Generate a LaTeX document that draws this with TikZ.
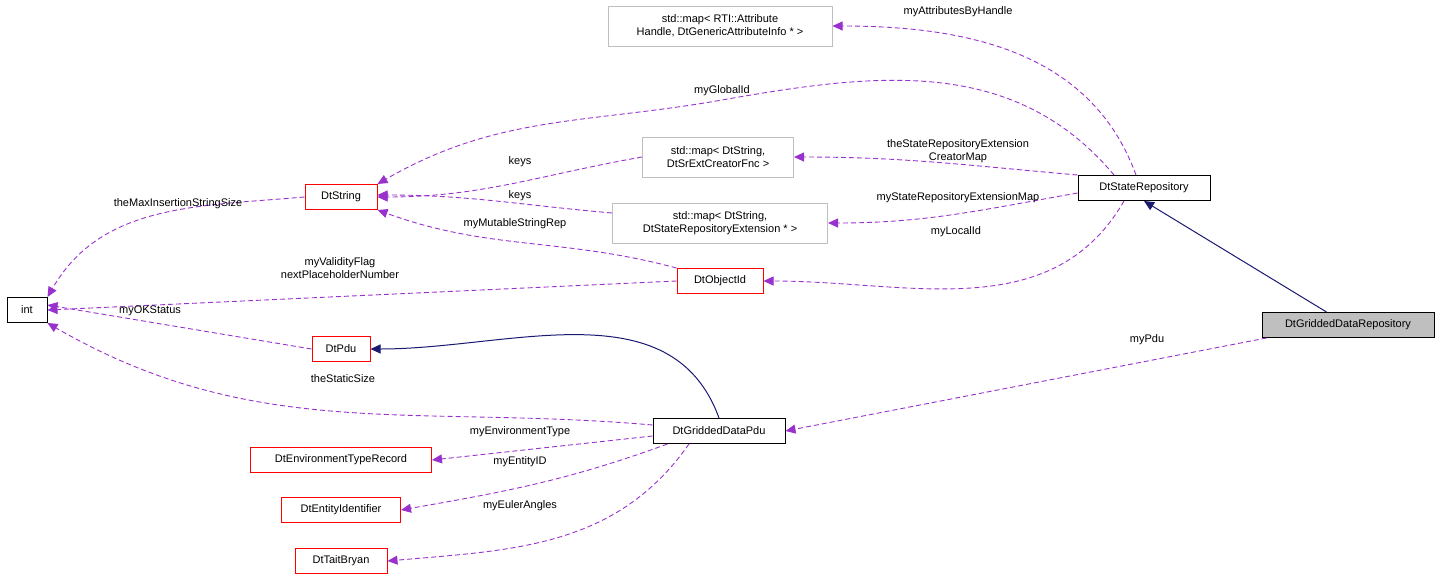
\documentclass[tikz,border=0pt]{standalone}
\usepackage{fontspec}
\setmainfont{Liberation Sans}
\usepackage{tikz}
\usetikzlibrary{arrows.meta}
\definecolor{EdgePurple}{RGB}{153,50,204}
\definecolor{EdgeNavy}{RGB}{25,25,112}
\definecolor{BoxGray}{RGB}{191,191,191}

\tikzset{
  cls/.style={draw=black,fill=white,rectangle,inner sep=0pt,line width=1pt,minimum height=25pt,font=\fontsize{11}{13}\selectfont,align=center},
  redcls/.style={cls,draw=red},
  graycls/.style={cls,draw=BoxGray,minimum height=40pt},
  usage/.style={draw=EdgePurple,line width=0.9pt,dash pattern=on 5pt off 3pt,-{Triangle[length=10pt,width=9pt]}},
  inherit/.style={draw=EdgeNavy,line width=1pt,-{Triangle[length=10pt,width=9pt]}},
  lbl/.style={font=\fontsize{11}{13}\selectfont,align=center,inner sep=0pt}
}

\begin{document}
\begin{tikzpicture}[x=1pt,y=-1pt]
\useasboundingbox (0,0) rectangle (1440,581);
% classes
\node[cls,minimum width=40pt] (int) at (27,310) {int};
\node[redcls,minimum width=72pt] (str) at (341,197) {DtString};
\node[graycls,minimum width=224pt] (mapRti) at (720,26) {std::map\textless{} RTI::Attribute\\Handle, DtGenericAttributeInfo * \textgreater};
\node[graycls,minimum width=151pt] (mapFnc) at (718,157) {std::map\textless{} DtString,\\DtSrExtCreatorFnc \textgreater};
\node[graycls,minimum width=215pt] (mapExt) at (720,223) {std::map\textless{} DtString,\\DtStateRepositoryExtension * \textgreater};
\node[cls,minimum width=132pt] (repo) at (1144,188) {DtStateRepository};
\node[redcls,minimum width=86pt] (oid) at (720,281) {DtObjectId};
\node[redcls,minimum width=58pt] (pdu) at (341,349) {DtPdu};
\node[cls,fill=BoxGray,minimum width=172pt] (gRepo) at (1348,325) {DtGriddedDataRepository};
\node[cls,minimum width=132pt] (gPdu) at (719,431) {DtGriddedDataPdu};
\node[redcls,minimum width=181pt] (envRec) at (341,460) {DtEnvironmentTypeRecord};
\node[redcls,minimum width=119pt] (entId) at (341,510) {DtEntityIdentifier};
\node[redcls,minimum width=92pt] (tait) at (341,561) {DtTaitBryan};

% inheritance
\draw[inherit] (gRepo.north west) ++(65,0) coordinate (gr1) (gr1) -- (repo.south);
\draw[inherit] (gPdu.north) to[out=110,in=0] (pdu.east);

% usage
\draw[usage] (repo.north) ++(-8,0) coordinate (r1) (r1) to[out=110,in=0] (mapRti.east);
\draw[usage] (repo.north) ++(-30,0) coordinate (r2) (r2) to[out=130,in=10] (722,100) to[out=190,in=30] (str.north east);
\draw[usage] (repo.north west) to[out=175,in=0] (mapFnc.east);
\draw[usage] (repo.south west) ++(0,-8) coordinate (r3) (r3) to[out=190,in=0] (mapExt.east);
\draw[usage] (repo.south) ++(-20,0) coordinate (r4) (r4) to[out=240,in=0] (oid.east);
\draw[usage] (mapFnc.west) to[out=190,in=0] (str.east);
\draw[usage] (mapExt.west) ++(0,-10) coordinate (m1) (m1) to[out=175,in=0] ([yshift=2pt]str.east);
\draw[usage] (oid.north west) to[out=165,in=-20] (str.south east);
\draw[usage] (str.west) to[out=185,in=60] (int.north east);
\draw[usage] (oid.west) -- (int.east);
\draw[usage] (pdu.west) -- ([yshift=5pt]int.east);
\draw[usage] (gPdu.west) ++(0,-6) coordinate (p1) (p1) to[out=175,in=-30] (int.south east);
\draw[usage] (gRepo.south west) ++(5,0) coordinate (g1) (g1) -- (gPdu.east);
\draw[usage] ([yshift=-5pt]gPdu.west) -- (envRec.east);
\draw[usage] (gPdu.south west) ++(15,0) coordinate (p2) (p2) to[out=200,in=10] (entId.east);
\draw[usage] (gPdu.south) ++(-30,0) coordinate (p3) (p3) to[out=235,in=5] (tait.east);

% labels
\node[lbl] (lAttr) at (958,12) {myAttributesByHandle};
\node[lbl] (lGlob) at (722,91) {myGlobalId};
\node[lbl] (lCre) at (958,151) {theStateRepositoryExtension\\CreatorMap};
\node[lbl] (lExtMap) at (958,198) {myStateRepositoryExtensionMap};
\node[lbl] (lLoc) at (956,232) {myLocalId};
\node[lbl] (lKeys1) at (520,162) {keys};
\node[lbl] (lKeys2) at (520,196) {keys};
\node[lbl] (lMut) at (515,224) {myMutableStringRep};
\node[lbl] (lMax) at (178,204) {theMaxInsertionStringSize};
\node[lbl] (lVal) at (340,268) {myValidityFlag\\nextPlaceholderNumber};
\node[lbl] (lOK) at (150,311) {myOKStatus};
\node[lbl] (lStat) at (343,379) {theStaticSize};
\node[lbl] (lPdu) at (1147,340) {myPdu};
\node[lbl] (lEnv) at (520,432) {myEnvironmentType};
\node[lbl] (lEnt) at (520,462) {myEntityID};
\node[lbl] (lEul) at (520,506) {myEulerAngles};
\end{tikzpicture}
\end{document}
